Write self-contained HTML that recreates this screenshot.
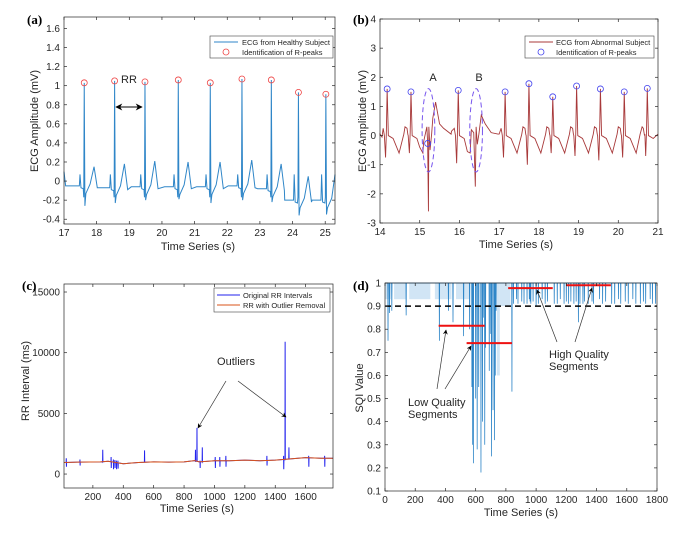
<!DOCTYPE html>
<html><head><meta charset="utf-8">
<style>
html,body{margin:0;padding:0;background:#fff;}
svg{display:block;font-family:"Liberation Sans",sans-serif;}
.tk{font-size:10px;fill:#262626;}
.lb{font-size:11px;fill:#262626;}
.pl{font-family:"Liberation Serif",serif;font-weight:bold;font-size:13px;fill:#000;}
.ax{fill:none;stroke:#262626;stroke-width:0.7;}
.lgt{font-size:7.5px;fill:#262626;}
</style></head>
<body>
<svg id="fig" width="684" height="542" viewBox="0 0 684 542">
<defs>
<marker id="ah" viewBox="0 0 10 10" refX="9" refY="5" markerWidth="7" markerHeight="7" orient="auto-start-reverse"><path d="M0,0 L10,5 L0,10 L3,5 Z" fill="#000"/></marker>
</defs>
</svg>
<script>
// ---------- Panel (a) data ----------
const aPeakTimes=[17.62,18.55,19.48,20.50,21.48,22.45,23.35,24.18,25.02];
const aPeakAmps=[1.03,1.05,1.04,1.06,1.03,1.07,1.06,0.93,0.91];
const aBase=[-0.05,-0.07,-0.06,-0.06,-0.06,-0.05,-0.08,-0.2,-0.2];
const aTAmps=[0.15,0.18,0.21,0.2,0.2,0.22,0.18,0.05,0.07];
const aSAmps=[-0.26,-0.23,-0.2,-0.19,-0.23,-0.2,-0.22,-0.36,-0.35];
const aXTicks=[17,18,19,20,21,22,23,24,25];
const aYTicks=[-0.4,-0.2,0,0.2,0.4,0.6,0.8,1,1.2,1.4,1.6];
// ---------- Panel (b) data ----------
const bPeakTimes=[14.18,14.78,15.97,17.15,17.75,18.35,18.95,19.55,20.15,20.73];
const bPeakAmps=[1.6,1.5,1.55,1.5,1.78,1.33,1.7,1.6,1.5,1.62];
const bQAmps=[-0.75,-0.6,-0.95,-0.75,-1.0,-0.6,-0.7,-0.85,-0.75,-0.7];
const bMarkT=[14.18,14.78,15.2,15.97,17.15,17.75,18.35,18.95,19.55,20.15,20.73];
const bMarkV=[1.6,1.5,-0.27,1.55,1.5,1.78,1.33,1.7,1.6,1.5,1.62];
const bAbnT=[15.0,15.1,15.18,15.2,15.22,15.26,15.33,15.4,15.5,15.6,15.8,16.0,16.2,16.3,16.36,16.4,16.45,16.55,16.65,16.8,17.0];
const bAbnV=[-0.4,-0.2,0.3,-0.27,-2.6,-0.5,0.6,1.15,0.4,0.25,0.15,0.0,-0.55,0.2,0.1,-1.75,-0.3,0.7,0.4,0.1,0.05];
const bXTicks=[14,15,16,17,18,19,20,21];
const bYTicks=[-3,-2,-1,0,1,2,3,4];
// ---------- Panel (c) data ----------
const cBaseT=[10,100,250,300,400,500,600,700,800,870,900,1000,1100,1200,1300,1400,1450,1500,1600,1700,1780];
const cBaseV=[950,980,1000,1050,850,950,1000,980,1000,1100,1000,1100,1100,1150,1100,1150,1200,1250,1350,1300,1300];
const cSpikeT=[25,115,265,320,335,345,355,365,540,875,885,905,920,1005,1035,1075,1345,1455,1465,1490,1620,1725];
const cSpikeHi=[1300,1200,2000,1400,1200,1150,1100,1100,1950,2000,3800,1100,2200,1400,1400,1500,1500,1500,10900,2200,1500,1500];
const cSpikeLo=[600,700,1000,500,400,500,400,450,1000,1000,1000,500,1000,500,600,600,700,400,1200,1200,600,600];
const cXTicks=[200,400,600,800,1000,1200,1400,1600];
const cYTicks=[0,5000,10000,15000];
// ---------- Panel (d) data ----------
const dDipT=[20,30,45,140,360,420,450,520,560,575,580,585,600,610,620,635,645,650,660,665,690,700,705,715,725,730,735,840,960,1000,1280,1310];
const dDipV=[0.75,0.87,0.88,0.86,0.75,0.88,0.83,0.77,0.8,0.55,0.3,0.22,0.5,0.28,0.55,0.18,0.4,0.85,0.3,0.72,0.62,0.78,0.25,0.45,0.32,0.6,0.88,0.53,0.92,0.9,0.83,0.91];
const dBandStart=[0,60,160,330,470,740,760];
const dBandEnd=[40,140,300,440,560,760,830];
const dBandLow=[0.93,0.93,0.93,0.93,0.93,0.6,0.9];
const dRightT=[850,870,880,905,920,940,955,965,980,1015,1040,1060,1075,1120,1140,1160,1185,1200,1215,1230,1250,1265,1290,1320,1345,1370,1380,1420,1440,1460,1500,1520,1545,1560,1590,1610,1640,1660,1690,1710,1725,1755,1770,1790];
const dRightV=[0.91,0.93,0.91,0.92,0.91,0.91,0.93,0.91,0.92,0.91,0.93,0.91,0.92,0.91,0.91,0.93,0.91,0.92,0.91,0.92,0.91,0.92,0.91,0.92,0.91,0.92,0.91,0.93,0.91,0.92,0.91,0.91,0.93,0.91,0.92,0.91,0.93,0.91,0.91,0.92,0.91,0.93,0.91,0.91];
const dSegStart=[355,540,815,1200];
const dSegEnd=[660,840,1110,1495];
const dSegV=[0.815,0.74,0.978,0.99];
const dXTicks=[0,200,400,600,800,1000,1200,1400,1600,1800];
const dYTicks=[0.1,0.2,0.3,0.4,0.5,0.6,0.7,0.8,0.9,1];

const NS="http://www.w3.org/2000/svg";
const svg=document.getElementById('fig');
function el(tag,attrs,parent,txt){const e=document.createElementNS(NS,tag);for(const k in attrs)e.setAttribute(k,attrs[k]);if(txt!==undefined)e.textContent=txt;(parent||svg).appendChild(e);return e;}
function scale(d0,d1,r0,r1){return v=>r0+(v-d0)/(d1-d0)*(r1-r0);}
function axes(g,P,xt,yt,xfmt,yfmt){
  const f=el('rect',{x:P.x0,y:P.y0,width:P.x1-P.x0,height:P.y1-P.y0,class:'ax'},g);
  
  xt.forEach(t=>{const x=P.sx(t);el('line',{x1:x,x2:x,y1:P.y1,y2:P.y1-3,stroke:'#262626','stroke-width':0.7},g);el('line',{x1:x,x2:x,y1:P.y0,y2:P.y0+3,stroke:'#262626','stroke-width':0.7},g);
    const t2=el('text',{x:x,y:P.y1+12,'text-anchor':'middle',class:'tk'},g,xfmt(t));});
  yt.forEach(t=>{const y=P.sy(t);el('line',{x1:P.x0,x2:P.x0+3,y1:y,y2:y,stroke:'#262626','stroke-width':0.7},g);el('line',{x1:P.x1,x2:P.x1-3,y1:y,y2:y,stroke:'#262626','stroke-width':0.7},g);
    const t2=el('text',{x:P.x0-4,y:y+3.5,'text-anchor':'end',class:'tk'},g,yfmt(t));});
}
function poly(g,pts,attrs){return el('polyline',Object.assign({points:pts.map(p=>p[0].toFixed(2)+','+p[1].toFixed(2)).join(' '),fill:'none'},attrs),g);}
function label(g,x,y,txt,name,rot){const a={x:x,y:y,'text-anchor':'middle',class:'lb'};if(rot)a.transform='rotate(-90 '+x+' '+y+')';const t=el('text',a,g,txt);return t;}
const fmt=v=>String(Math.round(v*10)/10);

// ================= Panel A =================
{
const g=el('g',{});
const P={x0:64,x1:335,y0:17,y1:224};P.sx=scale(17,25.3,64,335);P.sy=scale(-0.45,1.72,224,17);
const pts=[[17,0.1],[17.05,-0.05]];
aPeakTimes.forEach((t,i)=>{const b=aBase[i];
  [[t-0.42,b],[t-0.15,b],[t-0.13,0.07],[t-0.1,b-0.02],[t-0.03,b-0.03],[t-0.015,-0.17],[t,aPeakAmps[i]],[t+0.02,aSAmps[i]],[t+0.05,b-0.08],[t+0.18,b+0.02],[t+0.3,aTAmps[i]],[t+0.4,b-0.02]].forEach(p=>pts.push(p));});
pts.push([25.3,0.07]);
const ln=poly(g,pts.filter(p=>p[0]>=17&&p[0]<=25.3).map(p=>[P.sx(p[0]),P.sy(p[1])]),{stroke:'#2f86c8','stroke-width':1});

aPeakTimes.forEach((t,i)=>{const c=el('circle',{cx:P.sx(t),cy:P.sy(aPeakAmps[i]),r:3,fill:'none',stroke:'#ee4444','stroke-width':0.8},g);});
axes(g,P,aXTicks,aYTicks,String,fmt);
const lg=el('g',{},g);
el('rect',{x:210,y:36,width:123,height:22,fill:'#fff',stroke:'#444','stroke-width':0.6},lg);
el('line',{x1:214,x2:238,y1:42,y2:42,stroke:'#2f86c8','stroke-width':1},lg);
el('text',{x:242,y:45,class:'lgt'},lg,'ECG from Healthy Subject');
el('circle',{cx:226,cy:52,r:3,fill:'none',stroke:'#ee4444','stroke-width':0.8},lg);
el('text',{x:242,y:55,class:'lgt'},lg,'Identification of R-peaks');
const ar=el('line',{x1:116,x2:142,y1:107,y2:107,stroke:'#000','stroke-width':1,'marker-start':'url(#ah)','marker-end':'url(#ah)'},g);
label(g,129,83,'RR','rr-label').setAttribute('font-size','12px');
label(g,198,250,'Time Series (s)','x-axis-title');
label(g,38,121,'ECG Amplitude (mV)','y-axis-title',true);
const pl=el('text',{x:27,y:24,class:'pl'},g,'(a)');
}
// ================= Panel B =================
{
const g=el('g',{});
const P={x0:380,x1:658,y0:19,y1:223};P.sx=scale(14,21,380,658);P.sy=scale(-3,4,223,19);
let pts=[[14,0],[14.05,-0.05]];
bPeakTimes.forEach((t,i)=>{
  [[t-0.18,0.05],[t-0.1,0.25],[t-0.07,0],[t-0.04,bQAmps[i]],[t-0.02,0.1],[t,bPeakAmps[i]],[t+0.03,0],[t+0.15,-0.1],[t+0.3,-0.6],[t+0.45,0.3],[t+0.52,0.05]].forEach(p=>pts.push(p));});
bAbnT.forEach((t,i)=>pts.push([t,bAbnV[i]]));
pts.push([21,0.05]);
pts=pts.filter(p=>p[0]>=14&&p[0]<=21).sort((a,b)=>a[0]-b[0]);
const ln=poly(g,pts.map(p=>[P.sx(p[0]),P.sy(p[1])]),{stroke:'#a8393a','stroke-width':0.9});

bMarkT.forEach((t,i)=>{const c=el('circle',{cx:P.sx(t),cy:P.sy(bMarkV[i]),r:3,fill:'none',stroke:'#4444ee','stroke-width':0.8},g);});
[[15.22,'ellipse-a'],[16.42,'ellipse-b']].forEach(e=>{const c=el('ellipse',{cx:P.sx(e[0]),cy:P.sy(0.18),rx:P.sx(15.16)-P.sx(15.0),ry:P.sy(-1.25)-P.sy(0.18),fill:'none',stroke:'#7755ee','stroke-width':1,'stroke-dasharray':'5,3'},g);});
axes(g,P,bXTicks,bYTicks,String,String);
const lg=el('g',{},g);
el('rect',{x:525,y:36,width:129,height:22,fill:'#fff',stroke:'#444','stroke-width':0.6},lg);
el('line',{x1:529,x2:553,y1:42,y2:42,stroke:'#a8393a','stroke-width':1},lg);
el('text',{x:556,y:45,class:'lgt'},lg,'ECG from Abnormal Subject');
el('circle',{cx:541,cy:52,r:3,fill:'none',stroke:'#4444ee','stroke-width':0.8},lg);
el('text',{x:556,y:55,class:'lgt'},lg,'Identification of R-peaks');
label(g,433,81,'A','label-a').setAttribute('font-size','12px');
label(g,479,81,'B','label-b').setAttribute('font-size','12px');
label(g,516,248,'Time Series (s)','x-axis-title');
label(g,366,121,'ECG Amplitude (mV)','y-axis-title',true);
const pl=el('text',{x:353,y:24,class:'pl'},g,'(b)');
}
// ================= Panel C =================
{
const g=el('g',{});
const P={x0:64,x1:333,y0:284,y1:488};P.sx=scale(10,1780,64,333);P.sy=scale(-1150,15660,488,284);
function baseAt(t){for(let i=1;i<cBaseT.length;i++){if(t<=cBaseT[i]){const f=(t-cBaseT[i-1])/(cBaseT[i]-cBaseT[i-1]);return cBaseV[i-1]+f*(cBaseV[i]-cBaseV[i-1]);}}return cBaseV[cBaseV.length-1];}
const bpts=[];cBaseT.forEach(t=>bpts.push([t,baseAt(t)]));
cSpikeT.forEach((t,i)=>{bpts.push([t-1,baseAt(t)]);bpts.push([t,cSpikeHi[i]]);bpts.push([t+1,cSpikeLo[i]]);bpts.push([t+2,baseAt(t)]);});
bpts.sort((a,b)=>a[0]-b[0]);
const bl=poly(g,bpts.map(p=>[P.sx(p[0]),P.sy(p[1])]),{stroke:'#2222ee','stroke-width':1});

const ol=poly(g,cBaseT.map((t,i)=>[P.sx(t),P.sy(cBaseV[i])]),{stroke:'#d95319','stroke-width':1});

axes(g,P,cXTicks,cYTicks,String,String);
const lg=el('g',{},g);
el('rect',{x:214,y:288,width:116,height:24,fill:'#fff',stroke:'#444','stroke-width':0.6},lg);
el('line',{x1:217,x2:240,y1:295,y2:295,stroke:'#2222ee','stroke-width':1},lg);
el('text',{x:243,y:298,class:'lgt'},lg,'Original RR Intervals');
el('line',{x1:217,x2:240,y1:305,y2:305,stroke:'#d95319','stroke-width':1},lg);
el('text',{x:243,y:308,class:'lgt'},lg,'RR with Outlier Removal');
label(g,236,365,'Outliers','outliers-label');
const a1=el('line',{x1:226,y1:381,x2:198,y2:428,stroke:'#333','stroke-width':0.7,'marker-end':'url(#ah)'},g);
const a2=el('line',{x1:238,y1:381,x2:286,y2:417,stroke:'#333','stroke-width':0.7,'marker-end':'url(#ah)'},g);
label(g,197,512,'Time Series (s)','x-axis-title');
label(g,29,381,'RR Interval (ms)','y-axis-title',true);
const pl=el('text',{x:22,y:290,class:'pl'},g,'(c)');
}
// ================= Panel D =================
{
const g=el('g',{});
const P={x0:385,x1:657,y0:283,y1:491};P.sx=scale(0,1800,385,657);P.sy=scale(0.1,1,491,283);
dBandStart.forEach((s,i)=>{const r=el('rect',{x:P.sx(s),y:P.sy(1),width:P.sx(dBandEnd[i])-P.sx(s),height:P.sy(dBandLow[i])-P.sy(1),fill:'#c5def2',opacity:0.8},g);});
const pts=[[0,1]];
dDipT.forEach((t,i)=>{pts.push([t-1.5,1]);pts.push([t,dDipV[i]]);pts.push([t+1.5,1]);});
dRightT.forEach((t,i)=>{pts.push([t-1,1]);pts.push([t,dRightV[i]]);pts.push([t+1,1]);});
pts.push([1800,1]);pts.sort((a,b)=>a[0]-b[0]);
const ln=poly(g,pts.map(p=>[P.sx(p[0]),P.sy(p[1])]),{stroke:'#2f86c8','stroke-width':0.8});

const th=el('line',{x1:P.x0,x2:P.x1,y1:P.sy(0.9),y2:P.sy(0.9),stroke:'#000','stroke-width':1.5,'stroke-dasharray':'6,4'},g);
dSegStart.forEach((s,i)=>{const l=el('line',{x1:P.sx(s),x2:P.sx(dSegEnd[i]),y1:P.sy(dSegV[i]),y2:P.sy(dSegV[i]),stroke:'#ee1111','stroke-width':2},g);});
axes(g,P,dXTicks,dYTicks,String,fmt);
[[437,389,446,330],[445,389,471,346],[557,342,537,290],[575,342,592,288]].forEach(a=>{const l=el('line',{x1:a[0],y1:a[1],x2:a[2],y2:a[3],stroke:'#333','stroke-width':0.7,'marker-end':'url(#ah)'},g);});
const t1=el('text',{x:408,y:406,class:'lb'},g,'Low Quality');
const t2=el('text',{x:408,y:418,class:'lb'},g,'Segments');
const t3=el('text',{x:549,y:358,class:'lb'},g,'High Quality');
const t4=el('text',{x:549,y:370,class:'lb'},g,'Segments');
label(g,521,516,'Time Series (s)','x-axis-title');
label(g,363,388,'SQI Value','y-axis-title',true);
const pl=el('text',{x:353,y:290,class:'pl'},g,'(d)');
}
</script>
</body></html>
